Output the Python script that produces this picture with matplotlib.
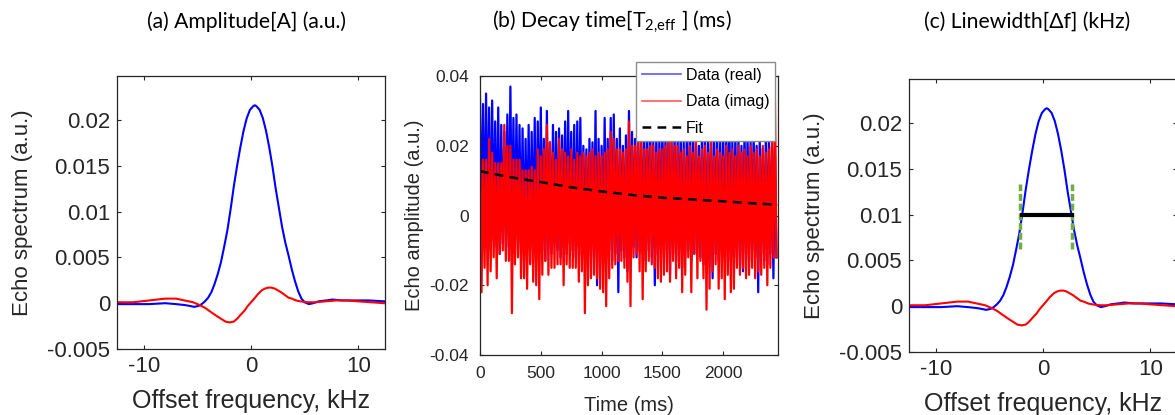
# encoding = utf-8
# echo spectrum / decay / linewidth, three panels

import numpy as np
import matplotlib
matplotlib.use("Agg")
import matplotlib.pyplot as plt

# spectrum (panels a and c), offset frequency in kHz
freq_real = [-12.5, -11.0, -9.5, -8.0, -7.0, -6.2, -5.7, -5.3, -4.9, -4.6, -4.3,
             -4.0, -3.7, -3.4, -3.1, -2.8, -2.5, -2.2, -1.9, -1.6, -1.3,
             -1.0, -0.7, -0.4, -0.1, 0.2, 0.35, 0.5, 0.8, 1.1, 1.4,
             1.7, 2.0, 2.3, 2.6, 2.9, 3.2, 3.5, 3.8, 4.1, 4.4,
             4.7, 5.0, 5.4, 5.8, 6.3, 7.0, 7.6, 8.5, 9.5, 11.0, 12.5]
spec_real = [-0.0001, -0.0001, -0.0001, 0.0000, -0.0001, -0.0002, -0.0003, -0.0004, -0.0003, -0.0001, 0.0002,
             0.0006, 0.0012, 0.0021, 0.0032, 0.0045, 0.0062, 0.0080, 0.0103, 0.0128, 0.0150,
             0.0170, 0.0188, 0.0202, 0.0211, 0.0215, 0.0216, 0.0215, 0.0211, 0.0202, 0.0188,
             0.0170, 0.0149, 0.0125, 0.0104, 0.0083, 0.0066, 0.0052, 0.0037, 0.0024, 0.0013,
             0.0005, 0.0001, -0.0001, 0.0000, 0.0002, 0.0003, 0.0004, 0.0003, 0.0003, 0.0003, 0.0002]
freq_imag = [-12.5, -11.0, -9.5, -8.0, -7.0, -6.2, -5.4, -4.8, -4.3, -3.7,
             -3.2, -2.8, -2.4, -2.0, -1.6, -1.3, -1.0, -0.6, -0.3, 0.0,
             0.3, 0.65, 1.0, 1.3, 1.6, 1.9, 2.2, 2.5, 2.8, 3.15,
             3.5, 3.8, 4.2, 4.6, 5.3, 6.0, 6.9, 8.0, 9.0, 10.0, 11.2, 12.5]
spec_imag = [0.0001, 0.0001, 0.0003, 0.0005, 0.0005, 0.0003, 0.0001, -0.0002, -0.0005, -0.0010,
             -0.0014, -0.0017, -0.0020, -0.0021, -0.0020, -0.0017, -0.0013, -0.0008, -0.0003, 0.0001,
             0.0005, 0.0010, 0.0014, 0.0016, 0.0017, 0.0017, 0.0016, 0.0014, 0.0012, 0.0009,
             0.0006, 0.0005, 0.0003, 0.0002, 0.0001, 0.0001, 0.0002, 0.0003, 0.0003, 0.0002, 0.0001, 0.0000]

# linewidth markers (panel c)
fwhm_edges = [-2.1, 2.75]
fwhm_bar = [-2.0, 2.7]
fwhm_level = 0.01
fwhm_marker_span = [0.0062, 0.0133]

# echo decay (panel b): upper / lower excursion of each 25 ms bin
bin_ms = 25
real_hi = [0.034, 0.032, 0.035, 0.031, 0.033, 0.027, 0.031, 0.026, 0.024, 0.029,
           0.037, 0.028, 0.029, 0.026, 0.025, 0.022, 0.026, 0.024, 0.028, 0.027,
           0.031, 0.022, 0.030, 0.021, 0.026, 0.024, 0.025, 0.023, 0.027, 0.030,
           0.024, 0.026, 0.027, 0.028, 0.020, 0.019, 0.022, 0.021, 0.030, 0.022,
           0.020, 0.028, 0.022, 0.028, 0.029, 0.022, 0.025, 0.020, 0.023, 0.030,
           0.024, 0.022, 0.026, 0.021, 0.025, 0.023, 0.026, 0.021, 0.024, 0.022,
           0.026, 0.023, 0.025, 0.021, 0.024, 0.022, 0.025, 0.021, 0.023, 0.026,
           0.022, 0.024, 0.020, 0.025, 0.023, 0.021, 0.026, 0.022, 0.024, 0.021,
           0.025, 0.023, 0.029, 0.021, 0.024, 0.022, 0.020, 0.025, 0.023, 0.021,
           0.024, 0.020, 0.022, 0.019, 0.023, 0.021, 0.020, 0.022]
real_lo = [-0.006, -0.009, -0.008, -0.010, -0.007, -0.009, -0.011, -0.008, -0.010, -0.009,
           -0.008, -0.010, -0.007, -0.009, -0.011, -0.008, -0.010, -0.009, -0.012, -0.008,
           -0.010, -0.013, -0.009, -0.011, -0.008, -0.010, -0.012, -0.009, -0.011, -0.008,
           -0.010, -0.012, -0.009, -0.011, -0.008, -0.013, -0.010, -0.012, -0.020, -0.011,
           -0.009, -0.012, -0.010, -0.013, -0.011, -0.022, -0.010, -0.012, -0.016, -0.011,
           -0.009, -0.012, -0.010, -0.011, -0.013, -0.010, -0.012, -0.020, -0.011, -0.009,
           -0.012, -0.010, -0.017, -0.011, -0.013, -0.010, -0.015, -0.012, -0.010, -0.013,
           -0.011, -0.009, -0.012, -0.014, -0.010, -0.012, -0.018, -0.011, -0.013, -0.010,
           -0.012, -0.009, -0.013, -0.011, -0.012, -0.014, -0.016, -0.011, -0.013, -0.010,
           -0.012, -0.022, -0.011, -0.013, -0.014, -0.011, -0.018, -0.012]
imag_hi = [0.016, 0.016, 0.016, 0.022, 0.018, 0.015, 0.015, 0.015, 0.026, 0.020,
           0.020, 0.016, 0.016, 0.016, 0.013, 0.013, 0.013, 0.014, 0.013, 0.019,
           0.017, 0.019, 0.026, 0.021, 0.018, 0.016, 0.022, 0.019, 0.018, 0.017,
           0.019, 0.016, 0.018, 0.017, 0.018, 0.017, 0.018, 0.019, 0.017, 0.018,
           0.017, 0.018, 0.019, 0.024, 0.022, 0.019, 0.019, 0.018, 0.019, 0.027,
           0.020, 0.020, 0.023, 0.023, 0.019, 0.019, 0.020, 0.020, 0.018, 0.019,
           0.019, 0.020, 0.022, 0.021, 0.020, 0.020, 0.018, 0.019, 0.017, 0.020,
           0.018, 0.021, 0.017, 0.019, 0.020, 0.018, 0.021, 0.017, 0.019, 0.018,
           0.017, 0.020, 0.018, 0.019, 0.017, 0.020, 0.018, 0.019, 0.017, 0.020,
           0.018, 0.019, 0.017, 0.020, 0.018, 0.019, 0.021, 0.033]
imag_lo = [-0.022, -0.015, -0.020, -0.016, -0.012, -0.018, -0.011, -0.010, -0.013, -0.013,
           -0.028, -0.014, -0.012, -0.018, -0.018, -0.021, -0.014, -0.019, -0.020, -0.024,
           -0.017, -0.013, -0.017, -0.015, -0.015, -0.014, -0.014, -0.020, -0.014, -0.015,
           -0.015, -0.015, -0.019, -0.016, -0.028, -0.020, -0.018, -0.017, -0.018, -0.021,
           -0.022, -0.026, -0.018, -0.015, -0.014, -0.013, -0.013, -0.015, -0.019, -0.026,
           -0.012, -0.011, -0.016, -0.024, -0.016, -0.013, -0.014, -0.015, -0.018, -0.019,
           -0.017, -0.016, -0.019, -0.013, -0.018, -0.015, -0.022, -0.017, -0.012, -0.022,
           -0.011, -0.018, -0.013, -0.018, -0.027, -0.021, -0.016, -0.014, -0.021, -0.018,
           -0.024, -0.017, -0.022, -0.021, -0.015, -0.017, -0.015, -0.018, -0.017, -0.015,
           -0.018, -0.016, -0.017, -0.015, -0.020, -0.015, -0.012, -0.012]

# exponential fit read at a few times
fit_t = [0, 250, 500, 750, 1000, 1250, 1500, 1750, 2000, 2250, 2450]
fit_amp = [0.0127, 0.0110, 0.0096, 0.0081, 0.0069, 0.0059, 0.0051, 0.0046, 0.0041, 0.0035, 0.0031]

spec_xticks = [-10, 0, 10]
spec_yticks = [-0.005, 0, 0.005, 0.01, 0.015, 0.02]
spec_yticklabels = ["-0.005", "0", "0.005", "0.01", "0.015", "0.02"]
decay_xticks = [0, 500, 1000, 1500, 2000]
decay_yticks = [-0.04, -0.02, 0, 0.02, 0.04]
decay_yticklabels = ["-0.04", "-0.02", "0", "0.02", "0.04"]

titles = ["(a) Amplitude[A] (a.u.)",
          r"(b) Decay time[T$_{\mathregular{2{,}eff}}$ ] (ms)",
          "(c) Linewidth[\u0394f] (kHz)"]

AX_COLOR = "#262626"
TITLE_FONT = ["Lato", "DejaVu Sans"]


def style_box(ax, size, pad):
    for sp in ax.spines.values():
        sp.set_color(AX_COLOR)
        sp.set_linewidth(0.9)
    ax.tick_params(direction="in", top=True, right=True, length=3,
                   width=0.8, colors=AX_COLOR, labelsize=size, pad=pad)


def spectrum_panel(ax):
    ax.plot(freq_real, spec_real, color="blue", linewidth=1.5)
    ax.plot(freq_imag, spec_imag, color="red", linewidth=1.5)
    ax.set_xlim(-12.5, 12.5)
    ax.set_ylim(-0.005, 0.0248)
    ax.set_xticks(spec_xticks)
    ax.set_xticklabels([str(v) for v in spec_xticks])
    ax.set_yticks(spec_yticks)
    ax.set_yticklabels(spec_yticklabels)
    style_box(ax, 16, 5)
    ax.set_xlabel("Offset frequency, kHz", fontsize=18, color=AX_COLOR, labelpad=9)
    ax.set_ylabel("Echo spectrum (a.u.)", fontsize=16, color=AX_COLOR, labelpad=10)


def main():
    plt.rcParams["font.family"] = ["Liberation Sans", "DejaVu Sans"]
    plt.rcParams["mathtext.fontset"] = "custom"
    plt.rcParams["mathtext.rm"] = "Lato"
    plt.rcParams["path.simplify"] = False

    fig = plt.figure(figsize=(11.75, 4.15), dpi=100)
    ax_a = fig.add_axes([0.0996, 0.159, 0.2281, 0.658])
    ax_b = fig.add_axes([0.4085, 0.1446, 0.2536, 0.672])
    ax_c = fig.add_axes([0.7736, 0.1518, 0.2281, 0.658])

    # (a)
    spectrum_panel(ax_a)

    # (b) noisy echo train, each bin drawn as its up/down excursion
    n = len(real_hi)
    t = np.arange(2 * n) * bin_ms / 2.0
    real_trace = np.column_stack([real_hi, real_lo]).ravel()
    imag_trace = np.column_stack([imag_hi, imag_lo]).ravel()
    ax_b.plot(t, real_trace, color="blue", linewidth=1.6, label="Data (real)")
    ax_b.plot(t, imag_trace, color="red", linewidth=1.6, label="Data (imag)")
    ax_b.plot(fit_t, fit_amp, color="black", linewidth=1.8, linestyle=(0, (3.5, 2.5)), label="Fit")
    ax_b.set_xlim(0, 2450)
    ax_b.set_ylim(-0.04, 0.04)
    ax_b.set_xticks(decay_xticks)
    ax_b.set_xticklabels([str(v) for v in decay_xticks])
    ax_b.set_yticks(decay_yticks)
    ax_b.set_yticklabels(decay_yticklabels)
    style_box(ax_b, 12.5, 8)
    ax_b.set_xlabel("Time (ms)", fontsize=14.5, color=AX_COLOR, labelpad=11)
    ax_b.set_ylabel("Echo amplitude (a.u.)", fontsize=14.5, color=AX_COLOR, labelpad=4)
    leg = ax_b.legend(loc="upper right", bbox_to_anchor=(0.99, 1.05), fontsize=11.5,
                      frameon=True, fancybox=False, framealpha=1.0, handlelength=2.45,
                      handletextpad=0.3, borderpad=0.35, labelspacing=0.72, borderaxespad=0)
    leg.get_frame().set_edgecolor("#8c8c8c")
    leg.get_frame().set_linewidth(1.0)
    leg.set_zorder(10)
    for line in leg.get_lines()[:2]:
        line.set_linewidth(1.2)
        line.set_alpha(0.65)

    # (c) spectrum with linewidth markers
    spectrum_panel(ax_c)
    for x in fwhm_edges:
        ax_c.plot([x, x], fwhm_marker_span, color="#70ad47", linewidth=2.5,
                  linestyle=(0, (2, 0.8)))
    ax_c.plot(fwhm_bar, [fwhm_level, fwhm_level], color="black", linewidth=3)

    # panel titles
    for xc, txt in zip([0.2094, 0.5209, 0.8740], titles):
        fig.text(xc, 0.947, txt, ha="center", va="center", fontsize=15.2,
                 family=TITLE_FONT, color="black")

    fig.savefig("out.png", dpi=100)


if __name__ == '__main__':
    main()
